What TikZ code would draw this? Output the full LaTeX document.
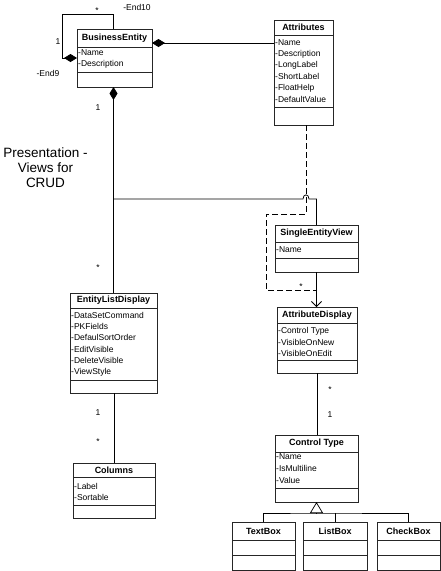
\documentclass[tikz,border=0pt]{standalone}
\usepackage{fontspec}
\setmainfont{Liberation Sans}
\usetikzlibrary{arrows.meta}
\tikzset{
  box/.style={draw=black!85, line width=0.9pt, inner sep=0pt, outer sep=0pt, anchor=north west},
  ttl/.style={font=\fontsize{9}{10}\selectfont\bfseries, inner sep=0pt},
  att/.style={font=\fontsize{8.5}{10}\selectfont, inner sep=0pt, anchor=west},
  lbl/.style={font=\fontsize{8.5}{10}\selectfont, inner sep=0pt},
  conn/.style={line width=0.75pt},
  comp/.style={{Diamond[length=13pt,width=8pt]}-},
  sep/.style={line width=0.9pt, black!85},
}
\newcommand{\umlcls}[8]{%
  \node[box, minimum width=#4pt-#2pt, minimum height=#5pt-#3pt] (#1) at (#2,#3) {};
  \draw[sep] (#2,#6) -- (#4,#6) (#2,#7) -- (#4,#7);
  \node[ttl] (#1-title) at ({(#2+#4)/2},{(#3+#6)/2}) {#8};
}
\newcommand{\umlatt}[4]{\node[att] (#1) at (#2,#3) {#4};}
\begin{document}
\begin{tikzpicture}[x=1pt,y=-1pt]
\useasboundingbox (0,0) rectangle (441,571);

% classes
\umlcls{BE}{77}{29}{152}{87}{47}{72}{BusinessEntity}
\umlatt{BE-a1}{78}{53}{-Name}
\umlatt{BE-a2}{78}{64}{-Description}

\umlcls{ATT}{274}{20}{333}{125}{35}{107}{Attributes}
\umlatt{ATT-a1}{275}{43}{-Name}
\umlatt{ATT-a2}{275}{54.2}{-Description}
\umlatt{ATT-a3}{275}{65.4}{-LongLabel}
\umlatt{ATT-a4}{275}{76.6}{-ShortLabel}
\umlatt{ATT-a5}{275}{87.8}{-FloatHelp}
\umlatt{ATT-a6}{275}{99}{-DefaultValue}

\umlcls{SEV}{275}{225}{358}{272}{242}{258}{SingleEntityView}
\umlatt{SEV-a1}{276}{250}{-Name}

\umlcls{AD}{277}{307}{357}{373}{323}{360}{AttributeDisplay}
\umlatt{AD-a1}{278}{331}{-Control Type}
\umlatt{AD-a2}{278}{342}{-VisibleOnNew}
\umlatt{AD-a3}{278}{353}{-VisibleOnEdit}

\umlcls{ELD}{70}{293}{157}{393}{308}{380}{EntityListDisplay}
\umlatt{ELD-a1}{71}{315}{-DataSetCommand}
\umlatt{ELD-a2}{71}{326.4}{-PKFields}
\umlatt{ELD-a3}{71}{337.8}{-DefaulSortOrder}
\umlatt{ELD-a4}{71}{349.2}{-EditVisible}
\umlatt{ELD-a5}{71}{360.6}{-DeleteVisible}
\umlatt{ELD-a6}{71}{372}{-ViewStyle}

\umlcls{COL}{73}{463}{155}{518}{477}{505}{Columns}
\umlatt{COL-a1}{74}{486}{-Label}
\umlatt{COL-a2}{74}{497}{-Sortable}

\umlcls{CT}{275}{435}{358}{502}{452}{488}{Control Type}
\umlatt{CT-a1}{276}{457}{-Name}
\umlatt{CT-a2}{276}{468.5}{-IsMultiline}
\umlatt{CT-a3}{276}{480}{-Value}

\umlcls{TB}{232}{522}{295}{570}{540}{555}{TextBox}
\umlcls{LB}{303}{522}{367}{570}{540}{555}{ListBox}
\umlcls{CB}{377}{522}{440}{570}{540}{555}{CheckBox}

% free text
\node[font=\fontsize{13.5}{15}\selectfont, align=center, inner sep=0pt] (pres) at (45.5,168) {Presentation -\\Views for\\CRUD};

% self loop
\coordinate (lp) at (113,14);
\draw[conn, comp] (BE.west) -- ++(-15,0) |- (lp) -- (lp |- BE.north);
\node[lbl] (l-end10) at (137,7) {-End10};
\node[lbl] (l-star0) at (97,11) {*};
\node[lbl] (l-one0) at (58,42) {1};
\node[lbl] (l-end9) at (48,73) {-End9};

% BusinessEntity - Attributes
\draw[conn, comp] (BE.east |- ATT-a1) -- (ATT.west |- ATT-a1);

% BusinessEntity - EntityListDisplay
\draw[conn, comp] (ELD.north |- BE.south) -- (ELD.north);
\node[lbl] (l-one1) at (98,108) {1};
\node[lbl] (l-star1) at (98,268) {*};

% branch to SingleEntityView with hop
\path (0,199) coordinate (y199);
\coordinate (br) at (ELD.north |- y199);
\coordinate (hopL) at (303,199);
\coordinate (hopR) at (309,199);
\draw[conn] (br) -- (hopL) .. controls (303,193.5) and (309,193.5) .. (hopR) -- (SEV.north |- br) -- (SEV.north);

% dashed association class link
\coordinate (d0) at ([xshift=2.5pt]ATT.south);
\coordinate (d1) at (266,214);
\coordinate (d2) at (266,290);
\coordinate (d3) at (SEV.south |- d2);
\draw[conn, dash pattern=on 6pt off 3pt] (d0) |- (d1) -- (d2) -- (d3);
\node[lbl] (l-star2) at (301,287) {*};

% SingleEntityView -> AttributeDisplay
\draw[conn, -{Straight Barb[length=5pt,width=10pt]}] (SEV.south) -- (SEV.south |- AD.north);

% AttributeDisplay - Control Type
\draw[conn] (AD.south) -- (AD.south |- CT.north);
\node[lbl] (l-star3) at (330,390) {*};
\node[lbl] (l-one3) at (330,415) {1};

% EntityListDisplay - Columns
\draw[conn] (COL.north |- ELD.south) -- (COL.north);
\node[lbl] (l-one4) at (98,413) {1};
\node[lbl] (l-star4) at (98,442) {*};

% generalization
\draw[conn, {Triangle[open,length=11pt,width=13pt]}-] (CT.south) -- ++(0,11) coordinate (gen);
\draw[conn] (TB.north) |- (gen) -| (CB.north);
\draw[conn] (LB.north) -- (LB.north |- gen);
\end{tikzpicture}
\end{document}
